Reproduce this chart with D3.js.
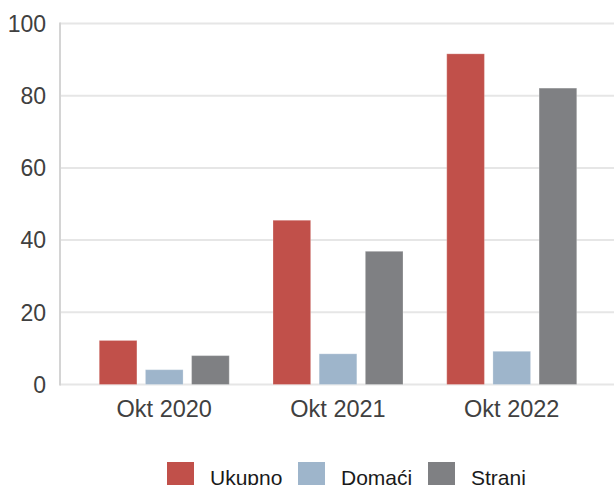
<!DOCTYPE html>
<html>
<head>
<meta charset="utf-8">
<script src="https://cdn.jsdelivr.net/npm/d3@7"></script>
<style>
  body { margin: 0; background: #fff; }
  svg { display: block; font-family: "Liberation Sans", Arial, sans-serif; }
</style>
</head>
<body>
<svg width="614" height="485"></svg>
<script>
const CATEGORIES = ['Okt 2020', 'Okt 2021', 'Okt 2022'];
const SERIES = ['Ukupno', 'Domaći', 'Strani'];
const UKUPNO = [12.2, 45.5, 91.6];
const DOMACI = [4.1, 8.5, 9.2];
const STRANI = [8.0, 36.9, 82.1];
const Y_TICKS = [0, 20, 40, 60, 80, 100];
const COLORS = ['#c1504a', '#9eb5cb', '#7f8083'];

const values = [UKUPNO, DOMACI, STRANI];
const data = CATEGORIES.map((c, i) => ({
    cat: c,
    vals: SERIES.map((s, j) => ({ series: s, value: values[j][i] }))
}));

const svg = d3.select('svg');
const LEFT = 60, RIGHT = 616, TOP = 23.5, BOTTOM = 384.5;

const x0 = d3.scaleBand().domain(CATEGORIES).range([LEFT, RIGHT]).paddingInner(0).paddingOuter(0.1);
const x1 = d3.scaleBand().domain(SERIES).range([-65, 65]).paddingInner(0.184);
const y = d3.scaleLinear().domain([0, 100]).range([BOTTOM, TOP]);

// gridlines
svg.append('g')
    .selectAll('line')
    .data(Y_TICKS)
    .enter()
    .append('line')
    .attr('x1', LEFT)
    .attr('x2', 614)
    .attr('y1', d => y(d))
    .attr('y2', d => y(d))
    .attr('stroke', '#e6e6e6')
    .attr('stroke-width', 2);

// y axis line
svg.append('line')
    .attr('x1', LEFT).attr('x2', LEFT)
    .attr('y1', TOP - 1).attr('y2', BOTTOM + 1)
    .attr('stroke', '#d4d4d4')
    .attr('stroke-width', 2);

// y tick labels
svg.append('g')
    .selectAll('text')
    .data(Y_TICKS)
    .enter()
    .append('text')
    .text(d => d)
    .attr('x', 46)
    .attr('y', d => y(d))
    .attr('dy', '0.36em')
    .attr('text-anchor', 'end')
    .attr('font-size', 23)
    .attr('fill', '#404040');

// bars
const groups = svg.append('g')
    .selectAll('g')
    .data(data)
    .enter()
    .append('g')
    .attr('transform', d => `translate(${x0(d.cat) + x0.bandwidth() / 2},0)`);

groups.selectAll('rect')
    .data(d => d.vals)
    .enter()
    .append('rect')
    .attr('x', d => x1(d.series))
    .attr('width', x1.bandwidth())
    .attr('y', d => y(d.value))
    .attr('height', d => y(0) - y(d.value))
    .attr('fill', (d, i) => COLORS[i])
    .attr('stroke', 'rgba(255,255,255,0.25)')
    .attr('stroke-width', 1);

// x labels
svg.append('g')
    .selectAll('text')
    .data(CATEGORIES)
    .enter()
    .append('text')
    .text(d => d)
    .attr('x', d => x0(d) + x0.bandwidth() / 2)
    .attr('y', 417)
    .attr('text-anchor', 'middle')
    .attr('font-size', 23.5)
    .attr('fill', '#404040');

// legend
const LEGEND_X = [167, 298, 428];
const legend = svg.append('g')
    .selectAll('g')
    .data(SERIES)
    .enter()
    .append('g')
    .attr('transform', (d, i) => `translate(${LEGEND_X[i]},462)`);

legend.append('rect')
    .attr('width', 27)
    .attr('height', 27)
    .attr('fill', (d, i) => COLORS[i]);

legend.append('text')
    .text(d => d)
    .attr('x', 43)
    .attr('y', 23)
    .attr('font-size', 21)
    .attr('fill', '#1a1a1a');
</script>
</body>
</html>
